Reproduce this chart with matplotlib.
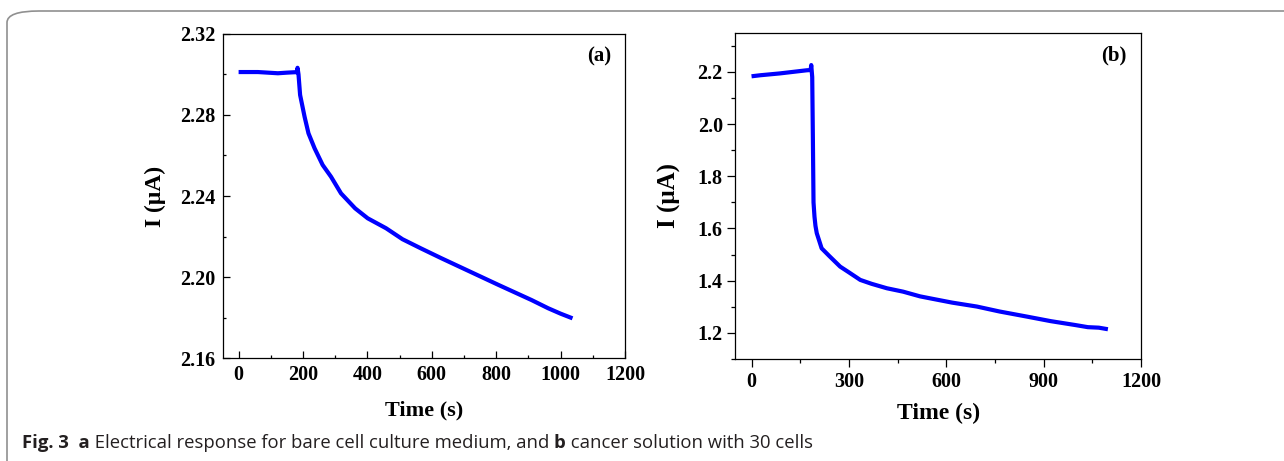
import numpy as np
import matplotlib
matplotlib.use('Agg')
import matplotlib.pyplot as plt
from matplotlib.patches import FancyBboxPatch
from matplotlib.ticker import MultipleLocator, FormatStrFormatter

# ==========================================
# 数据
# ==========================================
# (a) bare cell culture medium
time_a = [0, 60, 122, 150, 173, 181, 183, 186, 191, 205, 217, 236, 261, 287, 318,
          362, 401, 458, 509, 566, 630, 719, 808, 910, 961, 1000, 1037]
current_a = [2.3011, 2.3011, 2.3005, 2.3008, 2.3010, 2.3010, 2.3032, 2.3000, 2.2898, 2.2790,
             2.2709, 2.2635, 2.2553, 2.2495, 2.2413, 2.2339, 2.2290, 2.2241, 2.2187,
             2.2142, 2.2093, 2.2027, 2.1961, 2.1887, 2.1847, 2.1820, 2.1797]

# (b) cancer solution with 30 cells
time_b = [0, 27, 87, 170, 182, 184, 187, 189, 191, 194, 197, 201, 208, 216, 240, 273, 300,
          335, 370, 417, 467, 519, 560, 618, 694, 764, 846, 922, 998, 1036, 1070, 1098]
current_b = [2.183, 2.187, 2.194, 2.206, 2.207, 2.226, 2.180, 1.950, 1.700, 1.645, 1.610,
             1.582, 1.555, 1.524, 1.494, 1.454, 1.432, 1.403, 1.388, 1.371, 1.358, 1.340,
             1.330, 1.316, 1.301, 1.282, 1.263, 1.245, 1.230, 1.222, 1.220, 1.214]

# ==========================================
# 画图
# ==========================================
plt.rcParams['font.family'] = ['Liberation Serif', 'DejaVu Serif']
plt.rcParams['font.weight'] = 'bold'

fig = plt.figure(figsize=(12.84, 4.61), dpi=100)

# 外框（圆角灰色边框）
frame = FancyBboxPatch((7 / 1284, -0.2), 1.2, 1.2 - 11 / 461,
                       boxstyle='round,pad=0,rounding_size=0.025',
                       transform=fig.transFigure, fill=False,
                       edgecolor='#909090', linewidth=1.2, clip_on=False)
fig.patches.append(frame)

line_color = '#0000ff'

# 子图 (a)
ax1 = fig.add_axes([222.5 / 1284, 1 - 358.3 / 461, 402.5 / 1284, 324.6 / 461])
ax1.plot(time_a, current_a, color=line_color, linewidth=3.0, solid_capstyle='butt')
ax1.set_xlim(-50, 1200)
ax1.set_ylim(2.16, 2.32)
ax1.xaxis.set_major_locator(MultipleLocator(200))
ax1.xaxis.set_minor_locator(MultipleLocator(100))
ax1.yaxis.set_major_locator(MultipleLocator(0.04))
ax1.yaxis.set_minor_locator(MultipleLocator(0.02))
ax1.yaxis.set_major_formatter(FormatStrFormatter('%.2f'))
ax1.tick_params(which='both', direction='in', top=False, right=False, labelsize=14.5, width=0.9)
ax1.tick_params(which='major', length=5, pad=5)
ax1.tick_params(which='minor', length=2.5)
ax1.set_xlabel('Time (s)', fontsize=16, fontweight='bold', labelpad=11)
ax1.set_ylabel('I (\u03bcA)', fontsize=17, fontweight='bold', labelpad=10)
ax1.text(0.965, 0.93, '(a)', transform=ax1.transAxes, ha='right', va='center',
         fontsize=15, fontweight='bold')

# 子图 (b)
ax2 = fig.add_axes([735.3 / 1284, 1 - 359 / 461, 405.7 / 1284, 326.3 / 461])
ax2.plot(time_b, current_b, color=line_color, linewidth=3.0, solid_capstyle='butt')
ax2.set_xlim(-50, 1200)
ax2.set_ylim(1.1, 2.35)
ax2.xaxis.set_major_locator(MultipleLocator(300))
ax2.xaxis.set_minor_locator(MultipleLocator(150))
ax2.yaxis.set_major_locator(MultipleLocator(0.2))
ax2.yaxis.set_minor_locator(MultipleLocator(0.1))
ax2.yaxis.set_major_formatter(FormatStrFormatter('%.1f'))
ax2.tick_params(which='both', direction='out', top=False, right=False, labelsize=14.5, width=0.9)
ax2.tick_params(which='major', length=6, pad=3)
ax2.tick_params(which='minor', length=3)
ax2.set_xlabel('Time (s)', fontsize=17, fontweight='bold', labelpad=8)
ax2.set_ylabel('I (\u03bcA)', fontsize=18, fontweight='bold', labelpad=12)
ax2.text(0.965, 0.93, '(b)', transform=ax2.transAxes, ha='right', va='center',
         fontsize=15, fontweight='bold')

for ax in (ax1, ax2):
    for sp in ax.spines.values():
        sp.set_linewidth(0.9)

# 图注（粗体 + 常规体拼接）
caption = [('Fig. 3', 'bold'), ('  a', 'bold'), (' Electrical response for bare cell culture medium, and ', 'normal'),
           ('b', 'bold'), (' cancer solution with 30 cells', 'normal')]
fig.canvas.draw()
renderer = fig.canvas.get_renderer()
x = 22
for txt, wt in caption:
    t = fig.text(x / 1284, 1 - 443 / 461, txt, fontsize=13.3, fontweight=wt,
                 family=['Open Sans', 'DejaVu Sans'], ha='left', va='center', color='#231f20')
    bb = t.get_window_extent(renderer=renderer)
    x += bb.width

fig.savefig('out.png', dpi=100)
